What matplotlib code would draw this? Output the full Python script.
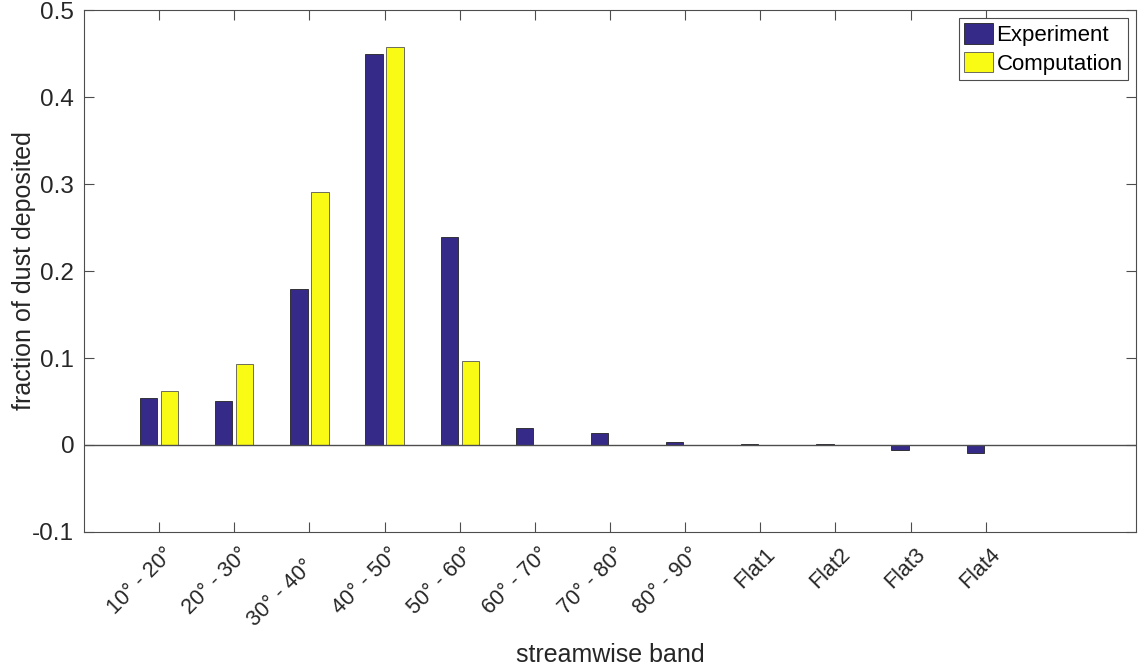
import numpy as np
import matplotlib

matplotlib.use("Agg")
import matplotlib.pyplot as plt
import matplotlib.transforms as mtransforms

plt.rcParams["font.family"] = ["Liberation Sans", "DejaVu Sans"]

bands = ["10° - 20°", "20° - 30°", "30° - 40°", "40° - 50°", "50° - 60°",
         "60° - 70°", "70° - 80°", "80° - 90°", "Flat1", "Flat2", "Flat3", "Flat4"]
experiment = [0.054, 0.050, 0.179, 0.450, 0.239, 0.020, 0.014, 0.003,
              0.001, 0.001, -0.006, -0.009]
computation = [0.062, 0.093, 0.291, 0.457, 0.096, 0.0, 0.0, 0.0,
               0.0, 0.0, 0.0, 0.0]
yticks = [-0.1, 0.0, 0.1, 0.2, 0.3, 0.4, 0.5]
ytick_labels = ["-0.1", "0", "0.1", "0.2", "0.3", "0.4", "0.5"]

exp_color = "#352A87"
comp_color = "#F9FB15"
axis_color = "#4d4d4d"
text_color = "#262626"

fig = plt.figure(figsize=(11.44, 6.70), dpi=100)
ax = fig.add_axes([0.0734, 0.206, 0.9196, 0.779])

x = np.arange(1, len(bands) + 1)
w = 0.23
ax.bar(x - 0.14, experiment, w, color=exp_color, edgecolor="#222222",
       linewidth=0.6, label="Experiment", zorder=3)
ax.bar(x + 0.14, computation, w, color=comp_color, edgecolor="#555555",
       linewidth=0.6, label="Computation", zorder=3)
ax.axhline(0, color=axis_color, lw=1.0, zorder=4)

ax.set_xlim(0, 14)
ax.set_ylim(-0.1, 0.5)
ax.set_xticks(x)
ax.set_xticklabels([])

# slanted band labels, drawn by hand so each can be nudged; the third one
# slides a bit further down its baseline
base = mtransforms.blended_transform_factory(ax.transData, ax.transAxes)
for i, (xi, name) in enumerate(zip(x, bands)):
    dx, dy = (4, -12) if i != 2 else (-6, -24)
    off = mtransforms.ScaledTranslation(dx / 100, dy / 100, fig.dpi_scale_trans)
    ax.text(xi, 0, name, transform=base + off, rotation=45, ha="right",
            va="top", rotation_mode="anchor", fontsize=15.5, color=text_color)

ax.set_yticks(yticks)
ax.set_yticklabels(ytick_labels, fontsize=17.5)

ax.tick_params(direction="in", length=7.2, width=0.8, colors=axis_color,
               labelcolor=text_color, top=True, right=True, pad=7)
for s in ax.spines.values():
    s.set_color(axis_color)
    s.set_linewidth(0.8)

ax.set_xlabel("streamwise band", fontsize=18, color=text_color)
ax.xaxis.set_label_coords(0.5, -0.213)
ax.set_ylabel("fraction of dust deposited", fontsize=18, color=text_color)
ax.yaxis.set_label_coords(-0.046, 0.5)

leg = ax.legend(loc="upper right", fontsize=16, fancybox=False,
                framealpha=1, edgecolor=axis_color, borderpad=0.25,
                handlelength=1.3, handleheight=1.05, handletextpad=0.15,
                labelspacing=0.25, borderaxespad=0.35)
leg.get_frame().set_linewidth(0.8)

fig.savefig("out.png", dpi=100, facecolor="white")
